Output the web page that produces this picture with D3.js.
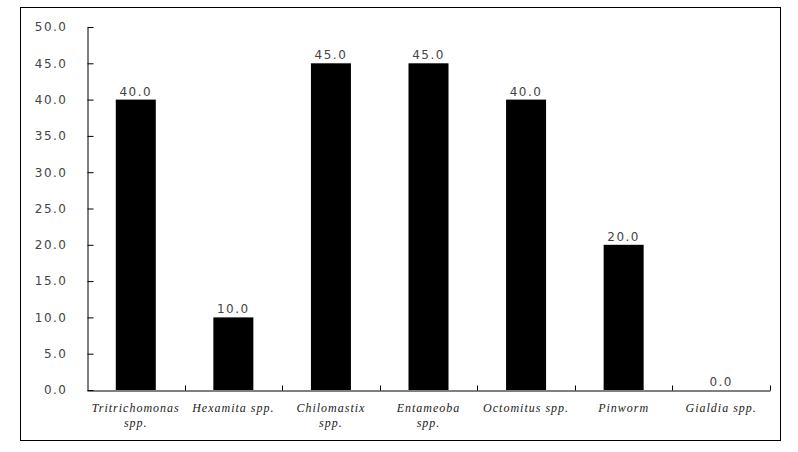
<!DOCTYPE html>
<html><head><meta charset="utf-8">
<script src="https://cdn.jsdelivr.net/npm/d3@7"></script>
<style>body{margin:0;background:#fff;}svg{display:block;}</style>
</head><body>
<svg id="c" width="798" height="452"></svg>
<script>
const categories = ["Tritrichomonas spp.", "Hexamita spp.", "Chilomastix spp.", "Entameoba spp.", "Octomitus spp.", "Pinworm", "Gialdia spp."];
const labelLines = [["Tritrichomonas", "spp."], ["Hexamita spp."], ["Chilomastix", "spp."], ["Entameoba", "spp."], ["Octomitus spp."], ["Pinworm"], ["Gialdia spp."]];
const values = [40.0, 10.0, 45.0, 45.0, 40.0, 20.0, 0.0];
const yTicks = [0, 5, 10, 15, 20, 25, 30, 35, 40, 45, 50];

const svg = d3.select("#c");
svg.append("rect").attr("x", 20.5).attr("y", 7.5).attr("width", 760).attr("height", 433)
  .attr("fill", "none").attr("stroke", "#000").attr("stroke-width", 1);

const pLeft = 87, pRight = 770, pTop = 27, pBottom = 390;
const x = d3.scaleBand().domain(categories).range([pLeft, pRight]).paddingInner(0.59).paddingOuter(0.295);
const xb = d3.scaleBand().domain(categories).range([pLeft, pRight]);
const y = d3.scaleLinear().domain([0, 50]).range([pBottom, pTop]);

// y axis
const ya = svg.append("g").attr("transform", `translate(${pLeft + 0.5},0)`)
  .call(d3.axisLeft(y).tickValues(yTicks).tickFormat(d3.format(".1f")).tickSizeInner(-6).tickSizeOuter(0).tickPadding(20));
ya.select(".domain").attr("stroke", "#000");
ya.selectAll(".tick line").attr("stroke", "#000");
ya.selectAll(".tick text").attr("font-family", "DejaVu Sans").attr("font-size", 12).attr("fill", "#444").attr("letter-spacing", "1.5px");

// x axis
const xa = svg.append("g").attr("transform", `translate(0,${pBottom + 0.5})`)
  .call(d3.axisBottom(xb).tickValues([]).tickSizeOuter(0));
xa.select(".domain").attr("stroke", "#000");
const bounds = categories.map(c => xb(c) + xb.bandwidth());
xa.selectAll("line.sep").data(bounds).enter().append("line").attr("class", "sep")
  .attr("x1", d => Math.round(d) + 0.5).attr("x2", d => Math.round(d) + 0.5).attr("y1", 0).attr("y2", -5).attr("stroke", "#000");

// bars
svg.selectAll("rect.bar").data(values).enter().append("rect").attr("class", "bar")
  .attr("x", (d, i) => x(categories[i])).attr("width", x.bandwidth())
  .attr("y", d => y(d)).attr("height", d => pBottom - y(d)).attr("fill", "#000");

// value labels
svg.selectAll("text.val").data(values).enter().append("text").attr("class", "val")
  .attr("x", (d, i) => x(categories[i]) + x.bandwidth() / 2).attr("y", d => y(d) - 4)
  .attr("text-anchor", "middle").attr("font-family", "DejaVu Sans").attr("font-size", 12)
  .attr("fill", "#444").attr("letter-spacing", "1.5px").text(d => d3.format(".1f")(d));

// category labels
const cl = svg.selectAll("text.cat").data(labelLines).enter().append("text").attr("class", "cat")
  .attr("x", (d, i) => xb(categories[i]) + xb.bandwidth() / 2).attr("y", 412)
  .attr("text-anchor", "middle").attr("font-family", "Liberation Serif").attr("font-style", "italic")
  .attr("font-size", 12).attr("fill", "#222").attr("letter-spacing", "1px");
cl.selectAll("tspan").data(d => d).enter().append("tspan")
  .attr("x", function() { return d3.select(this.parentNode).attr("x"); })
  .attr("dy", (d, i) => i === 0 ? 0 : 15).text(d => d);
</script>
</body></html>
